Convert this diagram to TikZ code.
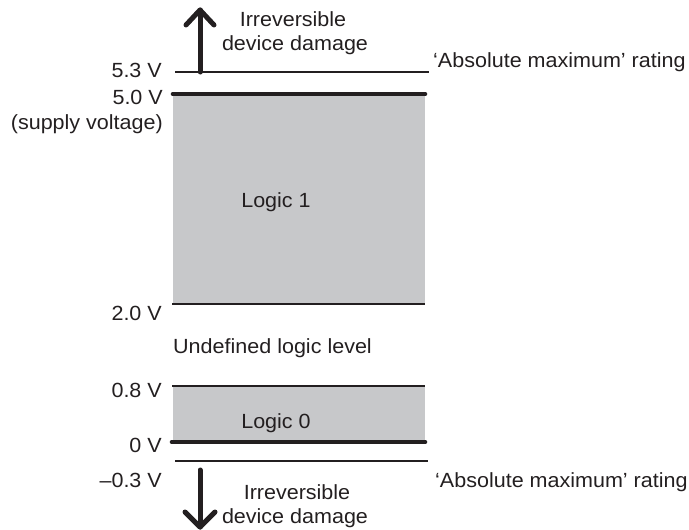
\documentclass[tikz,border=0pt]{standalone}
\usepackage{fontspec}
\setmainfont{Liberation Sans}[FakeStretch=1.05]
\definecolor{ink}{RGB}{35,31,32}
\definecolor{fillgray}{RGB}{199,200,202}
\begin{document}
\begin{tikzpicture}[x=1pt,y=-1pt,
  thinlevel/.style={draw=ink, line width=2.2pt},
  thicklevel/.style={draw=ink, line width=4.6pt, line cap=round},
  band/.style={fill=fillgray, draw=none},
  lbl/.style={inner sep=0pt, text=ink, font=\fontsize{20.5}{24}\selectfont},
  arrowline/.style={draw=ink, line width=5pt, line cap=round, line join=round}]
\useasboundingbox (0,0) rectangle (689,530);
% grey bands
\fill[band] (173,94) rectangle (425,304);
\fill[band] (173,386) rectangle (425,442);
% level lines
\draw[thinlevel] (175,72) -- (429,72);
\draw[thicklevel] (173,94) -- (425,94);
\draw[thinlevel] (172,304) -- (425,304);
\draw[thinlevel] (172,386) -- (425,386);
\draw[thicklevel] (172,442) -- (425,442);
\draw[thinlevel] (175,461) -- (428,461);
% arrows
\coordinate (upbase) at (200,72);
\coordinate (uptip) at (200,10);
\coordinate (upl) at (186,25);
\coordinate (upr) at (214,25);
\draw[arrowline] (upbase) -- (uptip);
\draw[arrowline] (upl) -- (uptip) -- (upr);
\coordinate (dnbase) at (200,470);
\coordinate (dntip) at (200,527);
\coordinate (dnl) at (185,512);
\coordinate (dnr) at (215,512);
\draw[arrowline] (dnbase) -- (dntip);
\draw[arrowline] (dnl) -- (dntip) -- (dnr);
% labels
\node[lbl, anchor=base east] (v53) at (162,77) {5.3 V};
\node[lbl, anchor=base east] (v50) at (163,104) {5.0 V};
\node[lbl, anchor=base east] (sup) at (163,129) {(supply voltage)};
\node[lbl, anchor=base] (l1) at (276,207) {Logic 1};
\node[lbl, anchor=base east] (v20) at (162,320) {2.0 V};
\node[lbl, anchor=base west] (und) at (173,353) {Undefined logic level};
\node[lbl, anchor=base east] (v08) at (162,397) {0.8 V};
\node[lbl, anchor=base] (l0) at (276,428) {Logic 0};
\node[lbl, anchor=base east] (v0) at (162,452) {0 V};
\node[lbl, anchor=base east] (vm03) at (162,487) {--0.3 V};
\node[lbl, anchor=base west] (abs1) at (433,67) {`Absolute maximum' rating};
\node[lbl, anchor=base west] (abs2) at (435,487) {`Absolute maximum' rating};
\node[lbl, anchor=base] (irr1a) at (293,27) {Irreversible};
\node[lbl, anchor=base] (irr1b) at (295,50) {device damage};
\node[lbl, anchor=base] (irr2a) at (297,499) {Irreversible};
\node[lbl, anchor=base] (irr2b) at (295,523) {device damage};
\end{tikzpicture}
\end{document}
